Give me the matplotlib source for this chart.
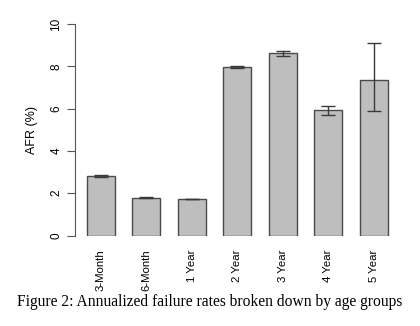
import matplotlib
matplotlib.use('Agg')
import matplotlib.pyplot as plt

groups = ['3-Month', '6-Month', '1 Year', '2 Year', '3 Year', '4 Year', '5 Year']
afr = [2.81, 1.79, 1.73, 7.98, 8.62, 5.92, 7.34]
err_low = [0.05, 0.02, 0.01, 0.05, 0.14, 0.24, 1.45]
err_high = [0.05, 0.02, 0.01, 0.05, 0.10, 0.22, 1.75]

fig = plt.figure(figsize=(4.2, 3.26), dpi=100)
ax = fig.add_axes([75 / 420, (326 - 235.5) / 326, (400 - 75) / 420, (235.5 - 24) / 326])

x = range(len(groups))
ax.bar(x, afr, width=0.62, color='#bebebe', edgecolor='#4a4a4a', linewidth=1.0)
ax.errorbar(x, afr, yerr=[err_low, err_high], fmt='none', ecolor='#3a3a3a',
            elinewidth=1.0, capsize=4.8, capthick=1.0, clip_on=False)

ax.set_xlim(-0.566, 6.577)
ax.set_ylim(0, 10)
for s in ['top', 'right', 'bottom']:
    ax.spines[s].set_visible(False)
ax.spines['left'].set_color('#555555')
ax.spines['left'].set_bounds(0, 10)

ax.set_yticks([0, 2, 4, 6, 8, 10])
ax.set_yticklabels(['0', '2', '4', '6', '8', '10'], rotation=90, va='center',
                   fontsize=8.5, family='Liberation Sans')
ax.tick_params(axis='y', length=6, color='#555555', pad=3)
ax.set_xticks(list(x))
ax.set_xticklabels(groups, rotation=90, fontsize=8.2, family='Liberation Sans')
ax.tick_params(axis='x', length=0, pad=10)
ax.set_ylabel('AFR (%)', fontsize=9, family='Liberation Sans', labelpad=9)

fig.text(0.5, 0.062, 'Figure 2: Annualized failure rates broken down by age groups',
         ha='center', va='baseline', fontsize=11.2, family='Liberation Serif')

fig.savefig('out.png', dpi=100)
